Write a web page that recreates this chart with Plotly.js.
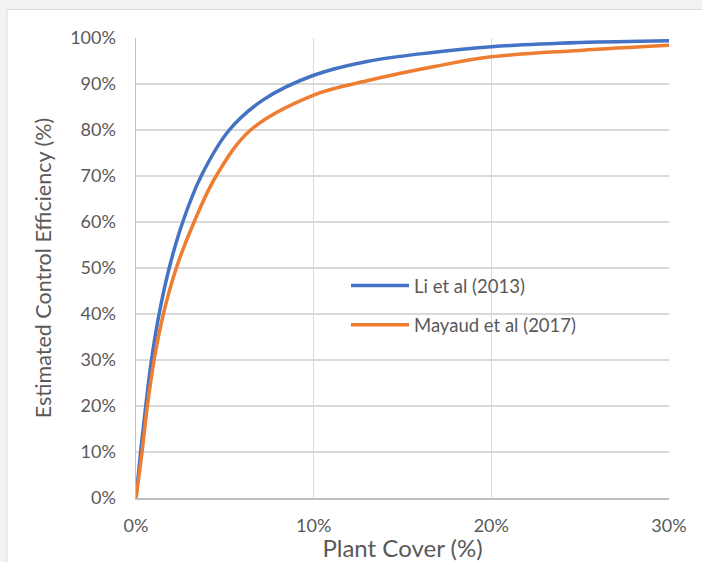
<!DOCTYPE html>
<html>
<head>
<meta charset="utf-8">
<script src="https://cdn.plot.ly/plotly-3.0.1.min.js"></script>
<style>html,body{margin:0;padding:0;background:#f2f2f2;}#chart{width:702px;height:562px;}</style>
</head>
<body>
<div id="chart"></div>
<script>
// Data (x = plant cover %, y = efficiency %)
const liX = [0, 0.26, 0.55, 0.87, 1.30, 1.87, 2.63, 3.67, 5.25, 7.18, 10, 13, 16.8, 20, 25, 30];
const liY = [0, 10, 20, 30, 40, 50, 60, 70, 80, 86.6, 91.9, 94.9, 96.9, 98.1, 99.0, 99.4];
const mayaudX = [0, 0.34, 0.64, 1.02, 1.54, 2.27, 3.27, 4.51, 6.45, 10, 13, 16.8, 20, 25, 30];
const mayaudY = [0, 10, 20, 30, 40, 50, 60, 70, 80, 87.6, 90.7, 93.8, 95.9, 97.3, 98.4];
const seriesNames = ["Li et al (2013)", "Mayaud et al (2017)"];
const xTicks = [0, 10, 20, 30];
const yTicks = [0, 10, 20, 30, 40, 50, 60, 70, 80, 90, 100];

const FONT = "Lato, 'Open Sans', sans-serif";
const TXT = "#595959";

const traces = [
  {x: liX, y: liY, name: seriesNames[0], mode: "lines", legendgroup: "a",
   line: {color: "#4472C4", width: 3.5, shape: "spline", smoothing: 1}},
  {x: mayaudX, y: mayaudY, name: seriesNames[1], mode: "lines", legendgroup: "b",
   line: {color: "#ED7D31", width: 3.5, shape: "spline", smoothing: 1}}
];

const layout = {
  width: 702, height: 562,
  paper_bgcolor: "#f2f2f2", plot_bgcolor: "rgba(0,0,0,0)",
  margin: {l: 136, r: 33, t: 38, b: 64, pad: 0},
  font: {family: FONT, color: TXT, size: 18},
  showlegend: true,
  legend: {
    x: 0.394, y: 0.502, xanchor: "left", yanchor: "top",
    bgcolor: "rgba(0,0,0,0)", font: {family: FONT, size: 18.5, color: TXT},
    traceorder: "grouped", tracegroupgap: 12, itemwidth: 58
  },
  xaxis: {
    range: [0, 30], tickvals: xTicks, ticktext: xTicks.map(v => v + "%"),
    showgrid: true, gridcolor: "#d9d9d9", gridwidth: 1.5,
    showline: true, linecolor: "#bfbfbf", linewidth: 1.5, zeroline: false,
    ticks: "", ticklabelstandoff: 11, tickfont: {size: 18, color: TXT, family: FONT},
    title: {text: "Plant Cover (%)", font: {size: 24, color: TXT, family: FONT}, standoff: 0},
    fixedrange: true
  },
  yaxis: {
    range: [0, 100], tickvals: yTicks, ticktext: yTicks.map(v => v + "%"),
    showgrid: true, gridcolor: "#d9d9d9", gridwidth: 1.5,
    showline: true, linecolor: "#bfbfbf", linewidth: 1.5, zeroline: false,
    ticks: "", ticklabelstandoff: 15, tickfont: {size: 18, color: TXT, family: FONT},
    title: {text: "Estimated Control Efficiency (%)", font: {size: 21.5, color: TXT, family: FONT}, standoff: 12},
    fixedrange: true
  },
  shapes: [
    {type: "rect", xref: "paper", yref: "paper", layer: "below",
     x0: -0.242, x1: 1.1, y0: -0.2, y1: 1.062,
     fillcolor: "#ffffff", line: {color: "#d9d9d9", width: 1}},
    {type: "rect", xref: "paper", yref: "paper", layer: "between",
     x0: 0.317, x1: 0.912, y0: 0.335, y1: 0.507,
     fillcolor: "#ffffff", line: {width: 0}}
  ]
};

Plotly.newPlot("chart", traces, layout, {displayModeBar: false, staticPlot: true});
</script>
</body>
</html>
